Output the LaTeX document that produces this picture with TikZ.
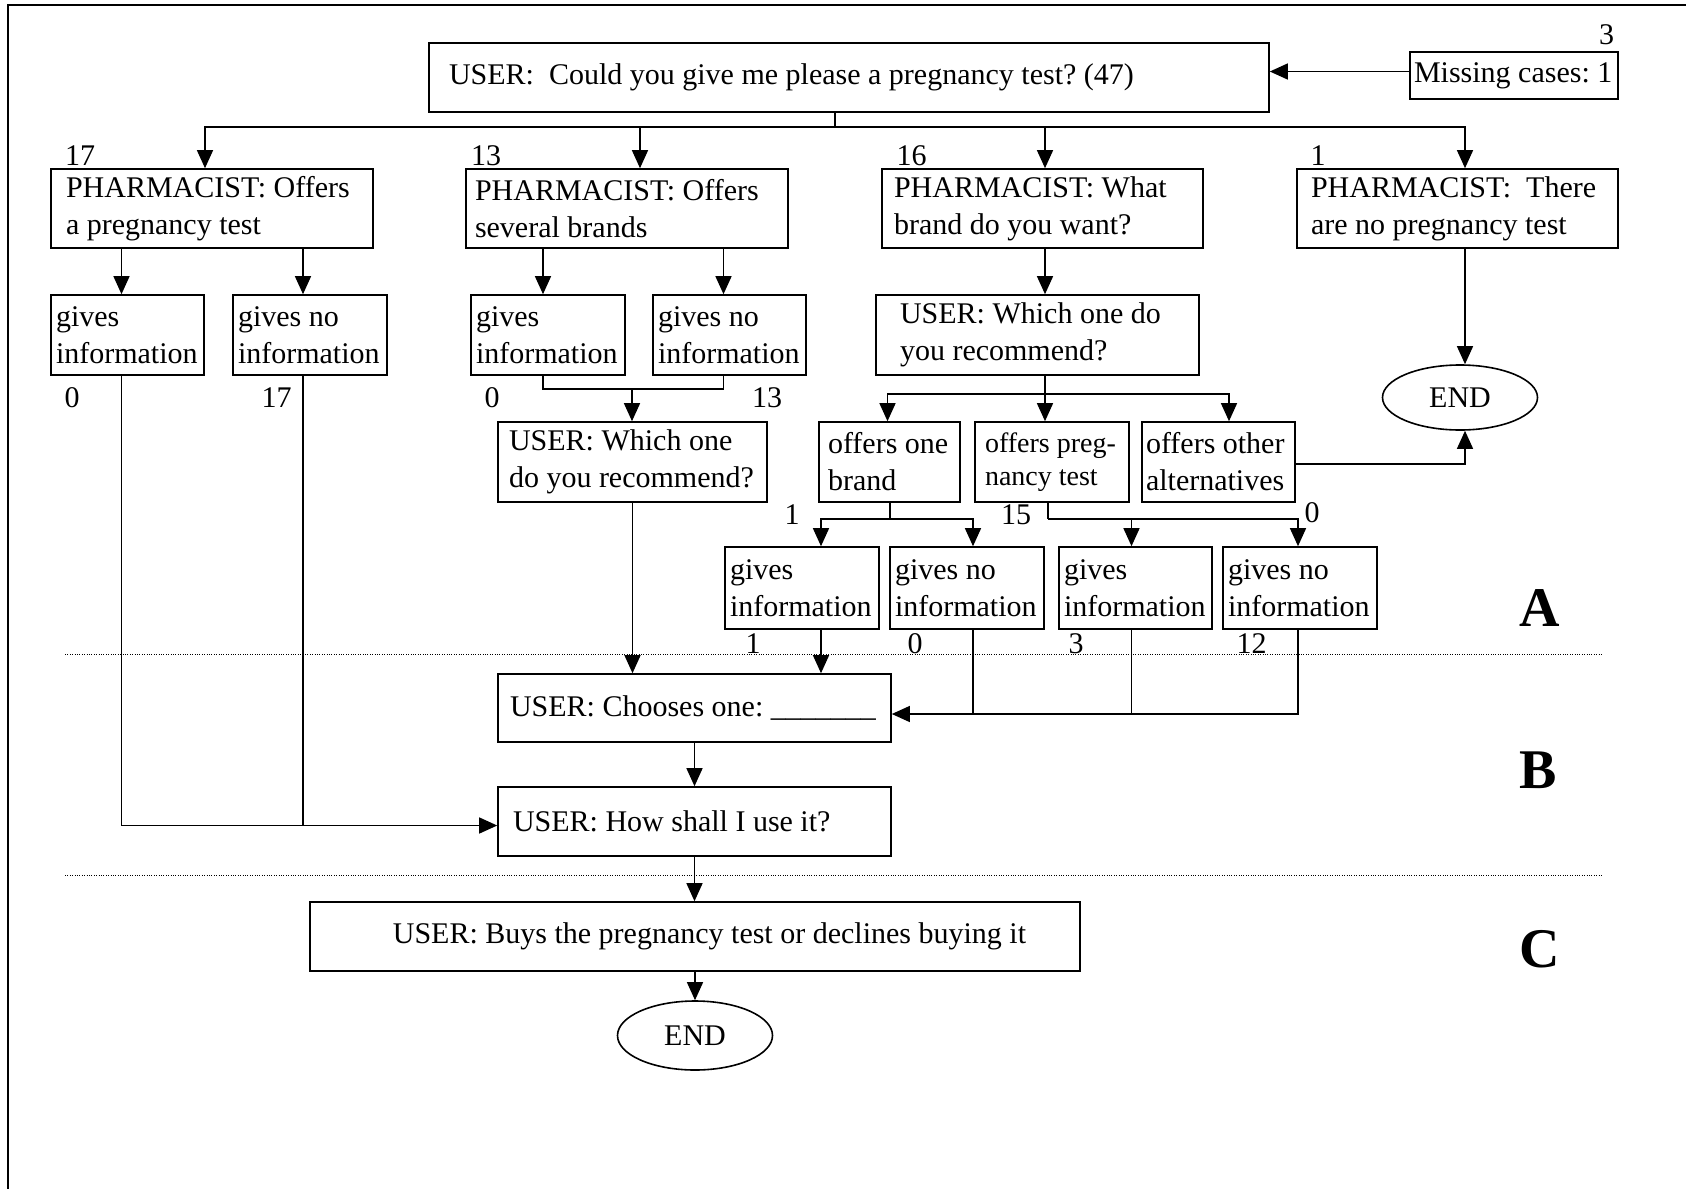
\documentclass[tikz,border=0pt]{standalone}
\usepackage{fontspec}
\setmainfont{Liberation Serif}
\usetikzlibrary{arrows.meta,shapes.geometric,positioning}
\frenchspacing

\tikzset{
  box/.style={draw, line width=1.6pt, rectangle, align=left, inner ysep=0pt,
    font=\fontsize{30}{37}\selectfont,
    execute at begin node={\spaceskip=0pt\xspaceskip=0pt}},
  term/.style={draw, line width=1.6pt, ellipse, inner sep=0pt,
    minimum width=155pt, minimum height=65pt, font=\fontsize{30}{37}\selectfont},
  num/.style={anchor=base, inner sep=0pt, font=\fontsize{30}{37}\selectfont},
  seclabel/.style={anchor=base, inner sep=0pt, font=\fontsize{56}{60}\selectfont\bfseries},
  conn/.style={line width=1.3pt},
  sep/.style={line width=0.8pt, dash pattern=on 0.8pt off 1.6pt},
}

\begin{document}
\begin{tikzpicture}[x=1pt, y=-1pt, >={Triangle[length=18pt,width=16pt]}]
  \useasboundingbox (0,0) rectangle (1686,1189);

  % Frame and section rules
  \draw[line width=1.5pt] (1686,5) -- (8,5) -- (8,1189);
  \draw[sep] (65,654) -- (1602,654);
  \draw[sep] (65,875) -- (1602,875);

  % Request
  \node[box, inner xsep=20pt, text width=800pt, minimum height=69pt] (ask) at (849,77.5) {USER:\ \ Could you give me please a pregnancy test? (47)};
  \node[box, inner xsep=4pt, text width=200pt, minimum height=47pt] (miss) at (1514,75.5) {Missing cases: 1};

  % Pharmacist answers
  \node[box, inner xsep=15pt, text width=292pt, minimum height=79pt] (offer) at (212,208.5) {PHARMACIST: Offers\\a pregnancy test};
  \node[box, inner xsep=9pt, text width=304pt, minimum height=79pt] (brands) at (627,208.5) {PHARMACIST: Offers\\several brands};
  \node[box, inner xsep=12pt, text width=297pt, minimum height=79pt] (which) at (1042.5,208.5) {PHARMACIST: What\\brand do you want?};
  \node[box, inner xsep=14pt, text width=293pt, minimum height=79pt] (none) at (1457.5,208.5) {PHARMACIST:\ \ There\\are no pregnancy test};

  % Second row
  \node[box, inner xsep=5pt, text width=143pt, minimum height=80pt] (giA) at (127.5,335) {gives\\information};
  \node[box, inner xsep=5pt, text width=144pt, minimum height=80pt] (gnA) at (310,335) {gives no\\information};
  \node[box, inner xsep=5pt, text width=144pt, minimum height=80pt] (giB) at (548,335) {gives\\information};
  \node[box, inner xsep=5pt, text width=143pt, minimum height=80pt] (gnB) at (729.5,335) {gives no\\information};
  \node[box, inner xsep=24pt, text width=275pt, minimum height=80pt] (recA) at (1037.5,335) {USER: Which one do\\you recommend?};
  \node[term] (endA) at (1460,397.5) {END};

  % Third row
  \node[box, inner xsep=11pt, text width=247pt, minimum height=80pt] (recB) at (632.5,462) {USER: Which one\\do you recommend?};
  \node[box, inner xsep=9pt, text width=123pt, minimum height=80pt] (one) at (889.5,462) {offers one\\brand};
  \node[box, inner xsep=10pt, text width=134pt, minimum height=80pt, font=\fontsize{28}{33}\selectfont] (preg) at (1052,462) {offers preg-\\nancy test};
  \node[box, inner xsep=4pt, text width=145pt, minimum height=80pt] (alt) at (1218.5,462) {offers other\\alternatives};

  % Fourth row
  \node[box, inner xsep=5pt, text width=144pt, minimum height=82pt] (giC) at (802,588) {gives\\information};
  \node[box, inner xsep=5pt, text width=144pt, minimum height=82pt] (gnC) at (967,588) {gives no\\information};
  \node[box, inner xsep=5pt, text width=143pt, minimum height=82pt] (giD) at (1135.5,588) {gives\\information};
  \node[box, inner xsep=5pt, text width=144pt, minimum height=82pt] (gnD) at (1300,588) {gives no\\information};

  % Lower part
  \node[box, inner xsep=12pt, text width=369pt, minimum height=68pt] (choose) at (694.5,708) {USER: Chooses one: \_\_\_\_\_\_\_};
  \node[box, inner xsep=15pt, text width=363pt, minimum height=69pt] (use) at (694.5,821.5) {USER: How shall I use it?};
  \node[box, inner xsep=0pt, minimum width=770pt, minimum height=69pt] (buy) at (695,936.5) {\hspace*{29pt}USER: Buys the pregnancy test or declines buying it};
  \node[term, minimum height=69pt] (endB) at (695,1035.5) {END};

  % Counts
  \node[num] (n3) at (1606.5,44) {3};
  \node[num] (n17a) at (80,165) {17};
  \node[num] (n13a) at (486,165) {13};
  \node[num] (n16) at (911.5,165) {16};
  \node[num] (n1a) at (1318,165) {1};
  \node[num] (n0a) at (72,407) {0};
  \node[num] (n17b) at (276.5,407) {17};
  \node[num] (n0b) at (492,407) {0};
  \node[num] (n13b) at (767,407) {13};
  \node[num] (n1b) at (792,524) {1};
  \node[num] (n15) at (1016,524) {15};
  \node[num] (n0c) at (1312,522) {0};
  \node[num] (n1c) at (753,653) {1};
  \node[num] (n0d) at (915,653) {0};
  \node[num] (n3b) at (1076,653) {3};
  \node[num] (n12) at (1251.5,653) {12};

  % Section letters
  \node[seclabel] (secA) at (1540,626) {A};
  \node[seclabel] (secB) at (1538,788) {B};
  \node[seclabel] (secC) at (1540,967) {C};

  % Arrows from the request
  \coordinate (fork) at (835,127);
  \draw[conn,->] ([yshift=4pt]miss.west) -- ([yshift=4pt]miss.west -| ask.east);
  \draw[conn] (ask.south -| fork) -- (fork);
  \draw[conn,->] (fork) -| ([xshift=-7pt]offer.north);
  \draw[conn,->] (fork) -| ([xshift=13pt]brands.north);
  \draw[conn,->] (fork) -| ([xshift=2.5pt]which.north);
  \draw[conn,->] (fork) -| ([xshift=7.5pt]none.north);

  % Second row arrows
  \draw[conn,->] ([xshift=-6pt]giA.north |- offer.south) -- ([xshift=-6pt]giA.north);
  \draw[conn,->] ([xshift=-7pt]gnA.north |- offer.south) -- ([xshift=-7pt]gnA.north);
  \draw[conn,->] ([xshift=-5pt]giB.north |- brands.south) -- ([xshift=-5pt]giB.north);
  \draw[conn,->] ([xshift=-6pt]gnB.north |- brands.south) -- ([xshift=-6pt]gnB.north);
  \draw[conn,->] ([xshift=2.5pt]which.south) -- ([xshift=2.5pt]which.south |- recA.north);
  \draw[conn,->] ([xshift=5pt]endA.north |- none.south) -- ([xshift=5pt]endA.north);
  \draw[conn,->] ([yshift=-2pt]alt.east) -| ([xshift=5pt]endA.south);

  % First branch to "How shall I use it?"
  \coordinate (useIn) at ([yshift=-4pt]use.west);
  \draw[conn,->] ([xshift=-6pt]giA.south) |- (useIn);
  \draw[conn] ([xshift=-7pt]gnA.south) -- ([xshift=-7pt]gnA.south |- useIn);

  % Second branch
  \coordinate (joinB) at (632,389);
  \draw[conn] ([xshift=-5pt]giB.south) |- (joinB);
  \draw[conn] ([xshift=-6pt]gnB.south) |- (joinB);
  \draw[conn,->] (joinB) -- (joinB |- recB.north);
  \draw[conn,->] (recB.south) -- (recB.south |- choose.north);

  % Third branch
  \coordinate (joinC) at (1045,394);
  \draw[conn] ([xshift=7.5pt]recA.south) -- (joinC);
  \draw[conn,->] (joinC) -| ([xshift=-2pt]one.north);
  \draw[conn,->] (joinC) -- (joinC |- preg.north);
  \draw[conn,->] (joinC) -| ([xshift=10.5pt]alt.north);

  \coordinate (joinD) at (890,519);
  \draw[conn] (one.south -| joinD) -- (joinD);
  \draw[conn,->] (joinD) -| ([xshift=19pt]giC.north);
  \draw[conn,->] (joinD) -| ([xshift=6pt]gnC.north);

  \coordinate (joinE) at (1048,519);
  \draw[conn] (preg.south -| joinE) -- (joinE);
  \draw[conn,->] (joinE) -| ([xshift=-4pt]giD.north);
  \draw[conn,->] (joinE) -| ([xshift=-2pt]gnD.north);

  % Into "Chooses one"
  \coordinate (chooseIn) at ([yshift=-6pt]choose.east);
  \draw[conn,->] ([xshift=19pt]giC.south) -- ([xshift=19pt]giC.south |- choose.north);
  \draw[conn] ([xshift=6pt]gnC.south) -- ([xshift=6pt]gnC.south |- chooseIn);
  \draw[conn] ([xshift=-4pt]giD.south) -- ([xshift=-4pt]giD.south |- chooseIn);
  \draw[conn,->] ([xshift=-2pt]gnD.south) |- (chooseIn);

  % Down the middle
  \draw[conn,->] (choose) -- (use);
  \draw[conn,->] (use.south) -- (use.south |- buy.north);
  \draw[conn,->] (buy) -- (endB);
\end{tikzpicture}
\end{document}
